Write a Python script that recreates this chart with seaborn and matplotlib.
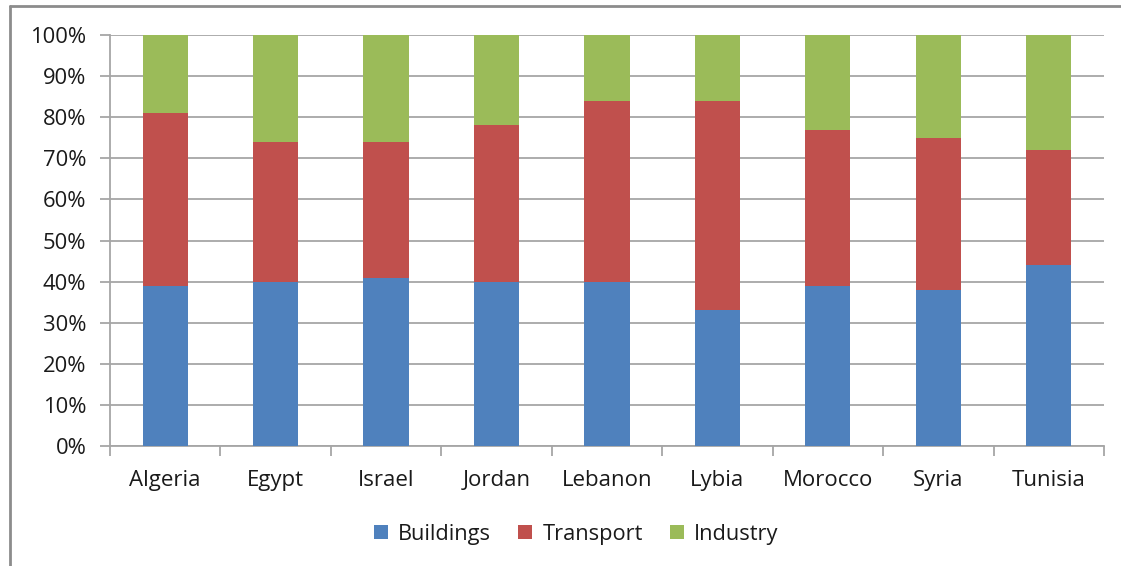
import matplotlib
matplotlib.use("Agg")
import matplotlib.pyplot as plt
import seaborn as sns
import pandas as pd
import numpy as np
from matplotlib.patches import Patch
from matplotlib.lines import Line2D
from matplotlib.ticker import FixedLocator

countries = ["Algeria", "Egypt", "Israel", "Jordan", "Lebanon", "Lybia", "Morocco", "Syria", "Tunisia"]
buildings = [39, 40, 41, 40, 40, 33, 39, 38, 44]
transport = [42, 34, 33, 38, 44, 51, 38, 37, 28]
industry = [19, 26, 26, 22, 16, 16, 23, 25, 28]
series_names = ["Buildings", "Transport", "Industry"]
colors = ["#4F81BD", "#C0504D", "#9BBB59"]
ytick_labels = ["0%", "10%", "20%", "30%", "40%", "50%", "60%", "70%", "80%", "90%", "100%"]

sns.set_theme(style="white")
plt.rcParams["font.family"] = ["Open Sans", "DejaVu Sans"]

df = pd.DataFrame({"country": countries, "Buildings": buildings,
                   "Transport": transport, "Industry": industry})
df["c1"] = df["Buildings"]
df["c2"] = df["Buildings"] + df["Transport"]
df["c3"] = df["c2"] + df["Industry"]

fig = plt.figure(figsize=(11.21, 5.66), dpi=100)
ax = fig.add_axes([0.0981, 0.212, 0.8867, 0.726])

for col, c in zip(["c3", "c2", "c1"], colors[::-1]):
    sns.barplot(data=df, x="country", y=col, color=c, width=0.41,
                saturation=1, ax=ax, edgecolor="none", linewidth=0, zorder=3)

ax.set_xlim(-0.5, len(countries) - 0.5)
ax.set_ylim(0, 100)
ax.set_yticks(np.arange(0, 101, 10))
ax.set_yticklabels(ytick_labels)
ax.set_xlabel("")
ax.set_ylabel("")
ax.grid(axis="y", color="#A6A6A6", linewidth=1.3, zorder=0)
ax.set_axisbelow(True)
for s in ["top", "right"]:
    ax.spines[s].set_visible(False)
for s in ["left", "bottom"]:
    ax.spines[s].set_color("#A6A6A6")
    ax.spines[s].set_linewidth(1.3)

ax.tick_params(axis="y", which="major", length=7, width=1.3, color="#A6A6A6",
               pad=10, labelsize=15.8, labelcolor="#1A1A1A", left=True)
ax.tick_params(axis="x", which="major", length=0, pad=17, labelsize=16,
               labelcolor="#1A1A1A")
ax.xaxis.set_minor_locator(FixedLocator(np.arange(-0.5, len(countries), 1.0)))
ax.tick_params(axis="x", which="minor", length=7, width=1.3, color="#A6A6A6",
               bottom=True, direction="out")

handles = [Patch(facecolor=c, edgecolor="none", label=n) for c, n in zip(colors, series_names)]
fig.legend(handles=handles, loc="center", bbox_to_anchor=(0.514, 0.056), ncol=3,
           frameon=False, fontsize=15.7, handlelength=0.65, handleheight=0.65,
           handletextpad=0.45, columnspacing=1.25, labelcolor="#1A1A1A")

# outer frame (gray lines along top and left)
fig.add_artist(Line2D([10 / 1121, 1.0], [1 - 6 / 566, 1 - 6 / 566],
                      transform=fig.transFigure, color="#8C8C8C", linewidth=2))
fig.add_artist(Line2D([10 / 1121, 10 / 1121], [0.0, 1 - 6 / 566],
                      transform=fig.transFigure, color="#8C8C8C", linewidth=2))

fig.savefig("out.png", dpi=100)
